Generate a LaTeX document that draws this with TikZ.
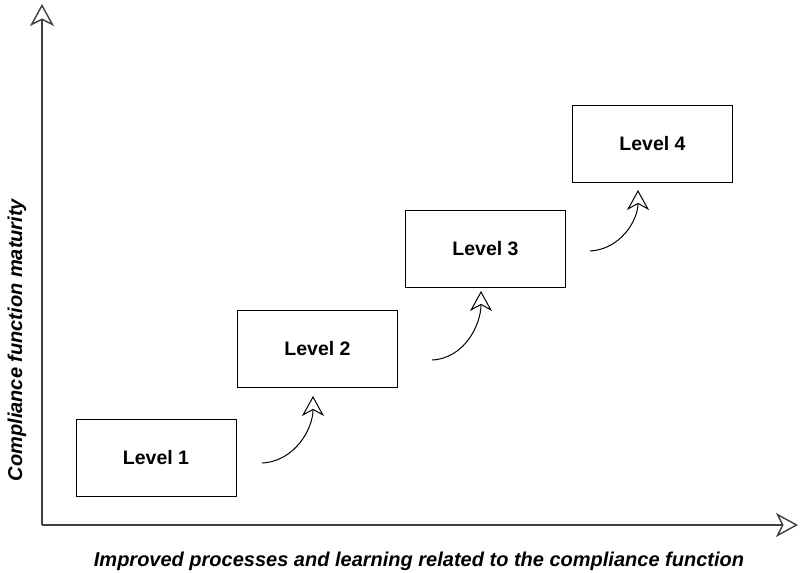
\documentclass[tikz,border=0pt]{standalone}
\usepackage{fontspec}
\setmainfont{Liberation Sans}
\usetikzlibrary{arrows.meta}

\begin{document}
\begin{tikzpicture}[
  x=1pt, y=-1pt,
  every node/.style={font=\fontsize{19.5}{22}\selectfont\bfseries},
  level/.style={draw, line width=1pt, minimum width=160pt, minimum height=77pt, inner sep=0pt},
  axis/.style={line width=1.4pt, draw=black!75, -{Stealth[open, length=22pt, width=24pt, inset=6pt]}},
  step up/.style={line width=1pt, -{Stealth[open, length=20pt, width=22pt, inset=6pt]}},
  axis label/.style={font=\fontsize{20}{22}\selectfont\bfseries\itshape}
]
\useasboundingbox (0,0) rectangle (801,573);

% axes
\coordinate (origin) at (42,525);
\coordinate (ytip) at (42,4);
\coordinate (xtip) at (798,525);
\draw[axis] (origin) -- (ytip);
\draw[axis] (origin) -- (xtip);
\node[axis label, rotate=90] (ylabel) at (17,340) {Compliance function maturity};
\node[axis label] (xlabel) at (419,561) {Improved processes and learning related to the compliance function};

% levels
\node[level] (l1) at (156,457.5) {Level 1};
\node[level] (l2) at (317.5,349) {Level 2};
\node[level] (l3) at (485.5,249) {Level 3};
\node[level] (l4) at (652.5,143.5) {Level 4};

% arrows between levels
\coordinate (s1) at (262,463);
\coordinate (e1) at (313,396);
\coordinate (s2) at (432,360);
\coordinate (e2) at (481,291);
\coordinate (s3) at (590,251);
\coordinate (e3) at (638,190);
\foreach \i in {1,2,3}
  \draw[step up] (s\i) to[out=3, in=-90] (e\i);
\end{tikzpicture}
\end{document}
